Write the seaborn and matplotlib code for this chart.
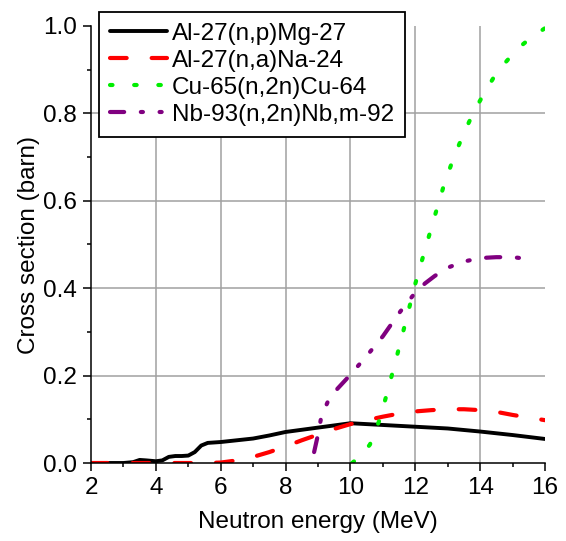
import matplotlib
matplotlib.use("Agg")
import matplotlib.pyplot as plt
import seaborn as sns
import numpy as np
import pandas as pd

# ---- data ----
e_al_np = [2.0, 3.0, 3.3, 3.5, 3.7, 4.0, 4.2, 4.4, 4.6, 4.8, 5.0, 5.2, 5.4, 5.6, 5.8, 6.0,
           6.5, 7.0, 7.5, 8.0, 8.5, 9.0, 9.5, 10.0, 10.5, 11.0, 12.0, 13.0, 14.0, 15.0, 16.0]
xs_al_np = [0.0, 0.0, 0.002, 0.007, 0.006, 0.004, 0.006, 0.014, 0.016, 0.016, 0.017, 0.025, 0.040, 0.046,
            0.047, 0.048, 0.052, 0.056, 0.063, 0.071, 0.076, 0.081, 0.086, 0.091, 0.089, 0.087,
            0.083, 0.079, 0.072, 0.064, 0.055]

e_al_na = [2.0, 5.5, 6.0, 6.5, 7.0, 7.5, 8.0, 8.5, 9.0, 9.5, 10.0, 10.5, 11.0, 11.5, 12.0,
           12.5, 13.0, 13.5, 14.0, 14.5, 15.0, 15.5, 16.0]
xs_al_na = [0.0, 0.0, 0.001, 0.006, 0.014, 0.025, 0.038, 0.052, 0.065, 0.078, 0.089, 0.098,
            0.106, 0.113, 0.118, 0.121, 0.123, 0.123, 0.121, 0.117, 0.110, 0.104, 0.098]

e_cu = [10.05, 10.3, 10.6, 10.9, 11.1, 11.4, 11.7, 12.0, 12.3, 12.6, 12.9, 13.2, 13.5, 13.8,
        14.1, 14.4, 14.7, 15.0, 15.3, 15.6, 16.0]
xs_cu = [0.0, 0.015, 0.042, 0.099, 0.152, 0.235, 0.322, 0.41, 0.488, 0.565, 0.64, 0.702,
         0.755, 0.803, 0.843, 0.88, 0.91, 0.935, 0.957, 0.975, 0.995]

e_nb = [8.88, 9.0, 9.1, 9.3, 9.6, 10.0, 10.5, 11.0, 11.5, 12.0, 12.3, 12.6, 13.0, 13.5,
        14.0, 14.5, 15.0, 15.6]
xs_nb = [0.025, 0.065, 0.105, 0.14, 0.17, 0.202, 0.245, 0.29, 0.343, 0.39, 0.411, 0.428,
         0.447, 0.461, 0.469, 0.471, 0.471, 0.466]

labels = ["Al-27(n,p)Mg-27", "Al-27(n,a)Na-24", "Cu-65(n,2n)Cu-64", "Nb-93(n,2n)Nb,m-92"]
colors = ["#000000", "#ff0000", "#00ee00", "#800080"]

x_ticks = [2, 4, 6, 8, 10, 12, 14, 16]
y_ticks = [0.0, 0.2, 0.4, 0.6, 0.8, 1.0]

# ---- style ----
sns.set_style("ticks")
plt.rcParams["font.family"] = ["Liberation Sans", "DejaVu Sans"]
plt.rcParams["font.size"] = 17.5
plt.rcParams["text.color"] = "black"
plt.rcParams["axes.labelcolor"] = "black"
plt.rcParams["xtick.color"] = "black"
plt.rcParams["ytick.color"] = "black"

FS = 17.5

fig = plt.figure(figsize=(5.66, 5.41), dpi=100)
ax = fig.add_axes([91 / 566, 1 - 463 / 541, (545 - 91) / 566, (463 - 26) / 541])

series = [(e_al_np, xs_al_np), (e_al_na, xs_al_na), (e_cu, xs_cu), (e_nb, xs_nb)]
styles = [
    dict(linestyle="-", linewidth=2.8, solid_capstyle="round", solid_joinstyle="round"),
    dict(linestyle=(0, (4.0, 6.0)), linewidth=3.0, dash_capstyle="round"),
    dict(linestyle=(0, (0.6, 5.2)), linewidth=3.0, dash_capstyle="round"),
    dict(linestyle=(0, (3.4, 4.0, 0.5, 4.0, 0.5, 4.0)), linewidth=3.0, dash_capstyle="round"),
]
for (ex, ys), lab, col, st in zip(series, labels, colors, styles):
    df = pd.DataFrame({"energy": ex, "xs": ys})
    sns.lineplot(data=df, x="energy", y="xs", ax=ax, color=col, label=lab,
                 estimator=None, sort=False, **st)

ax.set_xlim(2, 16)
ax.set_ylim(0, 1.0)
ax.set_xticks(x_ticks)
ax.set_yticks(y_ticks)
ax.set_yticklabels([f"{v:.1f}" for v in y_ticks])
ax.set_xticks(np.arange(3, 16, 2), minor=True)
ax.set_yticks(np.arange(0.1, 1.0, 0.2), minor=True)
ax.tick_params(axis="both", which="major", length=6, width=1.1, direction="out",
               labelsize=FS, color="black", labelcolor="black", pad=4)
ax.tick_params(axis="both", which="minor", length=3, width=1.1, direction="out", color="black")

ax.grid(True, which="major", color="#a0a0a0", linewidth=1.1)
ax.set_axisbelow(True)
for gl, v in zip(ax.xaxis.get_gridlines(), x_ticks):
    if v in (2, 16):
        gl.set_visible(False)
for gl, v in zip(ax.yaxis.get_gridlines(), y_ticks):
    if v in (0.0, 1.0):
        gl.set_visible(False)

for s in ["top", "right"]:
    ax.spines[s].set_visible(False)
for s in ["left", "bottom"]:
    ax.spines[s].set_color("black")
    ax.spines[s].set_linewidth(1.1)

ax.set_xlabel("Neutron energy (MeV)", fontsize=FS, labelpad=9, color="black")
ax.set_ylabel("Cross section (barn)", fontsize=FS, labelpad=2, color="black")

leg = ax.legend(loc="upper left", bbox_to_anchor=(99 / 566, 1 - 12 / 541),
                bbox_transform=fig.transFigure, borderaxespad=0, frameon=True,
                fancybox=False, framealpha=1, edgecolor="black", fontsize=FS,
                handlelength=2.35, handletextpad=0.2, labelspacing=0.2, borderpad=0.45)
leg.get_frame().set_linewidth(1.3)
for t in leg.get_texts():
    t.set_color("black")

fig.savefig("out.png", dpi=100)
